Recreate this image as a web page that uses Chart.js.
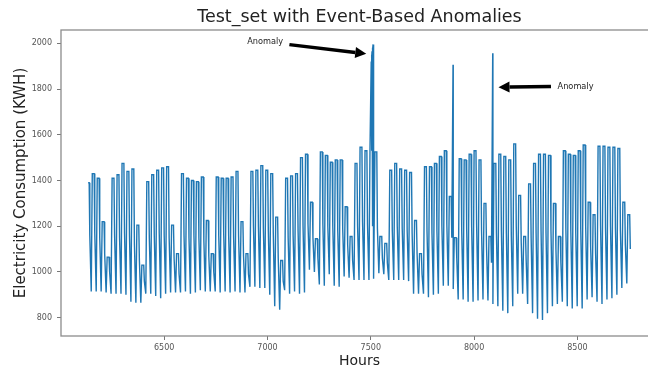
<!DOCTYPE html>
<html>
<head>
<meta charset="utf-8">
<title>Test_set with Event-Based Anomalies</title>
<script src="https://cdn.jsdelivr.net/npm/chart.js@4.4.1/dist/chart.umd.min.js"></script>
<style>
  html, body { margin: 0; padding: 0; background: #fff; overflow: hidden; }
  #chart { display: block; }
</style>
</head>
<body>
<canvas id="chart" width="664" height="370"></canvas>
<script>
// test set runs from hour 6132 to the end of the year
const startHour = 6132;
const firstDay = 255;

// one value per day (days 255..364)
const dayHigh = [
  1390, 1430, 1410, 1220, 1065, 1410, 1425, 1475, 1440, 1450,
  1205, 1030, 1395, 1425, 1445, 1455, 1460, 1205, 1080, 1430,
  1410, 1400, 1395, 1415, 1225, 1080, 1415, 1410, 1410, 1415,
  1440, 1220, 1080, 1440, 1445, 1465, 1445, 1430, 1240, 1050,
  1410, 1420, 1430, 1500, 1515, 1305, 1145, 1525, 1510, 1480,
  1490, 1490, 1285, 1155, 1475, 1545, 1530, 1530, 1525, 1155,
  1125, 1445, 1475, 1450, 1445, 1435, 1225, 1080, 1460, 1460,
  1475, 1505, 1530, 1330, 1150, 1495, 1490, 1515, 1530, 1490,
  1300, 1155, 1475, 1515, 1505, 1490, 1560, 1335, 1155, 1385,
  1475, 1515, 1515, 1510, 1300, 1155, 1530, 1515, 1510, 1530,
  1555, 1305, 1250, 1550, 1550, 1545, 1545, 1540, 1305, 1250
];
const dayLow = [
  915, 915, 915, 915, 910, 905, 905, 905, 900, 870,
  865, 865, 905, 905, 895, 885, 905, 910, 910, 910,
  915, 905, 910, 920, 915, 915, 915, 910, 915, 910,
  915, 910, 910, 935, 935, 930, 930, 900, 850, 835,
  920, 905, 915, 905, 910, 1010, 1000, 945, 940, 990,
  940, 935, 980, 975, 965, 965, 965, 965, 970, 995,
  990, 965, 965, 965, 965, 960, 905, 905, 905, 890,
  900, 905, 940, 940, 925, 880, 880, 870, 870, 875,
  880, 875, 860, 850, 830, 820, 850, 905, 905, 860,
  820, 795, 790, 820, 850, 860, 870, 850, 840, 850,
  840, 880, 890, 870, 860, 880, 885, 900, 930, 950
];
const dayEve = [
  1160, 1170, 1150, 1080, 1000, 1160, 1150, 1170, 1160, 1120,
  1050, 960, 1150, 1160, 1170, 1160, 1150, 1060, 990, 1160,
  1150, 1160, 1150, 1140, 1070, 1000, 1160, 1170, 1160, 1150,
  1160, 1070, 990, 1200, 1200, 1190, 1180, 1170, 1060, 960,
  1150, 1160, 1180, 1200, 1210, 1150, 1060, 1210, 1200, 1200,
  1180, 1190, 1120, 1050, 1200, 1220, 1210, 1200, 1190, 1060,
  1040, 1180, 1200, 1190, 1180, 1170, 1080, 990, 1180, 1170,
  1180, 1200, 1210, 1150, 1060, 1180, 1190, 1200, 1210, 1180,
  1110, 1040, 1170, 1180, 1170, 1160, 1200, 1130, 1050, 1150,
  1170, 1180, 1170, 1180, 1100, 1040, 1190, 1180, 1170, 1190,
  1200, 1110, 1080, 1200, 1190, 1200, 1190, 1180, 1120, 1100
];

// injected event anomalies
const anomalyHours = [7502, 7503, 7504, 7505, 7506, 7507, 7509, 7510, 7511, 7512, 7513, 7514, 7898, 8090];
const anomalyValues = [1920, 1900, 1950, 1935, 1965, 1950, 1980, 1970, 1995, 1985, 1960, 1940, 1906, 1956];

const xTicks = [6500, 7000, 7500, 8000, 8500];
const yTicks = [800, 1000, 1200, 1400, 1600, 1800, 2000];

// hours of the day used for night low, morning high, afternoon high, evening
const dayShape = [3, 8, 17, 20];

const points = [{ x: startHour, y: dayHigh[0] }];
dayHigh.forEach((hi, i) => {
  const base = (firstDay + i) * 24;
  const vals = [dayLow[i], hi, hi, dayEve[i]];
  dayShape.forEach((h, k) => {
    if (base + h > startHour) points.push({ x: base + h, y: vals[k] });
  });
});
anomalyHours.forEach((h, i) => points.push({ x: h, y: anomalyValues[i] }));
points.sort((a, b) => a.x - b.x);

// arrow annotations, in data coordinates
const notes = [
  { text: 'Anomaly', at: [6902, 2007], from: [7106, 1994], to: [7478, 1954] },
  { text: 'Anomaly', at: [8404, 1811], from: [8372, 1811], to: [8118, 1808] }
];

const framePlugin = {
  id: 'frame',
  afterDraw(chart) {
    const { ctx, chartArea: a } = chart;
    ctx.save();
    ctx.strokeStyle = '#8c8c8c';
    ctx.lineWidth = 1.3;
    ctx.strokeRect(a.left, a.top, a.right - a.left, a.bottom - a.top);
    ctx.fillStyle = '#222';
    ctx.font = '17.5px "DejaVu Sans"';
    ctx.textAlign = 'center';
    ctx.textBaseline = 'middle';
    ctx.fillText('Test_set with Event-Based Anomalies', (a.left + a.right) / 2, 17);
    ctx.restore();
  }
};

const arrowPlugin = {
  id: 'arrows',
  afterDatasetsDraw(chart) {
    const { ctx, scales: { x, y } } = chart;
    ctx.save();
    notes.forEach(n => {
      const x0 = x.getPixelForValue(n.from[0]), y0 = y.getPixelForValue(n.from[1]);
      const x1 = x.getPixelForValue(n.to[0]), y1 = y.getPixelForValue(n.to[1]);
      const ang = Math.atan2(y1 - y0, x1 - x0);
      const headLen = 11, headW = 5.5;
      const bx = x1 - headLen * Math.cos(ang), by = y1 - headLen * Math.sin(ang);
      ctx.strokeStyle = '#000';
      ctx.fillStyle = '#000';
      ctx.lineWidth = 3.5;
      ctx.beginPath();
      ctx.moveTo(x0, y0);
      ctx.lineTo(bx, by);
      ctx.stroke();
      ctx.beginPath();
      ctx.moveTo(x1, y1);
      ctx.lineTo(bx + headW * Math.sin(ang), by - headW * Math.cos(ang));
      ctx.lineTo(bx - headW * Math.sin(ang), by + headW * Math.cos(ang));
      ctx.closePath();
      ctx.fill();

      ctx.fillStyle = '#222';
      ctx.font = '8.2px "DejaVu Sans"';
      ctx.textAlign = 'left';
      ctx.textBaseline = 'middle';
      ctx.fillText(n.text, x.getPixelForValue(n.at[0]), y.getPixelForValue(n.at[1]));
    });
    ctx.restore();
  }
};

new Chart(document.getElementById('chart'), {
  type: 'line',
  data: {
    datasets: [{
      data: points,
      borderColor: '#1f77b4',
      borderWidth: 1.4,
      pointRadius: 0,
      tension: 0,
      fill: false
    }]
  },
  options: {
    responsive: false,
    animation: false,
    parsing: false,
    layout: { padding: { top: 30, left: 0, right: 6, bottom: 0 } },
    plugins: {
      legend: { display: false },
      tooltip: { enabled: false }
    },
    scales: {
      x: {
        type: 'linear',
        min: 6000.6,
        max: 8890,
        afterFit: s => { s.height = 34; },
        afterBuildTicks: s => { s.ticks = xTicks.map(v => ({ value: v })); },
        ticks: { font: { family: 'DejaVu Sans', size: 8 }, color: '#555', padding: 3, maxRotation: 0, callback: v => String(v) },
        grid: { drawOnChartArea: false, tickLength: 4, color: '#777' },
        border: { display: false },
        title: { display: true, text: 'Hours', color: '#222', font: { family: 'DejaVu Sans', size: 14 }, padding: 0 }
      },
      y: {
        min: 720,
        max: 2058,
        afterFit: s => { s.width = 61; },
        afterBuildTicks: s => { s.ticks = yTicks.map(v => ({ value: v })); },
        ticks: { font: { family: 'DejaVu Sans', size: 8 }, color: '#555', padding: 5, callback: v => String(v) },
        grid: { drawOnChartArea: false, tickLength: 4, color: '#777' },
        border: { display: false },
        title: { display: true, text: 'Electricity Consumption (KWH)', color: '#222', font: { family: 'DejaVu Sans', size: 15 }, padding: { top: 12, bottom: 0 } }
      }
    }
  },
  plugins: [framePlugin, arrowPlugin]
});
</script>
</body>
</html>
